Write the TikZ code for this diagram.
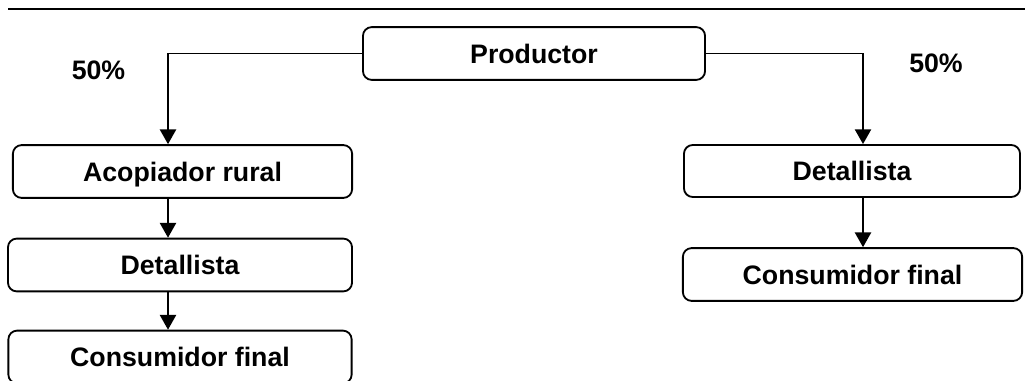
\documentclass[tikz,border=0pt]{standalone}
\usepackage{fontspec}
\setmainfont{Liberation Sans}
\usepackage{tikz}
\usetikzlibrary{arrows.meta}

\begin{document}
\begin{tikzpicture}[x=0.025cm, y=-0.025cm,
                    box/.style={draw, rounded corners=0.22cm, line width=1.3pt,
                                inner sep=0pt, minimum height=1.32cm,
                                text height=13.6pt, text depth=0pt,
                                font=\fontsize{19}{22}\selectfont\bfseries},
                    pct/.style={font=\fontsize{19}{22}\selectfont\bfseries},
                    arr/.style={line width=1.3pt, -{Triangle[length=10.5pt, width=11.5pt]}}]
                    \useasboundingbox (0,0) rectangle (1025,381);
                    % Rule
                    \draw[line width=2pt] (8,9) -- (1025,9);
                    % Nodes
                    \node[box, minimum width=8.55cm] (prod) at (534,53.5) {Productor};
                    \node[box, minimum width=8.48cm] (acop) at (182.5,171.5) {Acopiador rural};
                    \node[box, minimum width=8.6cm] (detL) at (180,265) {Detallista};
                    \node[box, minimum width=8.58cm] (consL) at (180,357) {Consumidor final};
                    \node[box, minimum width=8.4cm, minimum height=1.3cm] (detR) at (852,171) {Detallista};
                    \node[box, minimum width=8.48cm] (consR) at (852.5,274.5) {Consumidor final};
                    \node[pct] (pL) at (98.5,70) {50\%};
                    \node[pct] (pR) at (936,63.5) {50\%};
                    \coordinate (colL) at (168,0);
                    \coordinate (colR) at (863,0);
                    % Edges
                    \draw[arr] (prod.west) -| (acop.north -| colL);
                    \draw[arr] (prod.east) -| (detR.north -| colR);
                    \draw[arr] (acop.south -| colL) -- (detL.north -| colL);
                    \draw[arr] (detL.south -| colL) -- (consL.north -| colL);
                    \draw[arr] (detR.south -| colR) -- (consR.north -| colR);
                \end{tikzpicture}
\end{document}
